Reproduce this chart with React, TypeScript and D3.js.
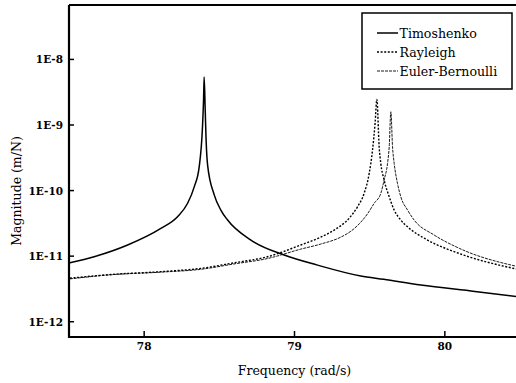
import React from "react";
import * as d3 from "d3";

// Frequency (rad/s) and magnitude (m/N)
const timoFreq = [77.506, 77.667, 77.89, 78.111, 78.222, 78.289, 78.333, 78.366, 78.388, 78.395, 78.399, 78.406, 78.412, 78.422, 78.466, 78.51, 78.555, 78.71, 78.931, 79.153, 79.441, 79.594, 79.84, 80.2, 80.5];
const timoMag = [7.9e-12, 9.8e-12, 1.48e-11, 2.65e-11, 4.0e-11, 6.4e-11, 1.14e-10, 2.3e-10, 9.4e-10, 2.4e-9, 5.4e-9, 1.7e-9, 5.9e-10, 2.45e-10, 8.6e-11, 5.05e-11, 3.55e-11, 1.76e-11, 1.04e-11, 7.3e-12, 4.98e-12, 4.43e-12, 3.63e-12, 2.9e-12, 2.38e-12];

const rayFreq = [77.506, 77.779, 78.111, 78.377, 78.597, 78.821, 79.042, 79.175, 79.264, 79.363, 79.419, 79.463, 79.497, 79.519, 79.536, 79.548, 79.563, 79.574, 79.596, 79.63, 79.663, 79.707, 79.752, 79.885, 80.095, 80.5];
const rayMag = [4.6e-12, 5.25e-12, 5.8e-12, 6.5e-12, 7.9e-12, 9.8e-12, 1.48e-11, 1.95e-11, 2.5e-11, 3.77e-11, 5.66e-11, 9.06e-11, 1.83e-10, 4.14e-10, 1.06e-9, 2.46e-9, 4.66e-10, 2.6e-10, 1.45e-10, 8.05e-11, 5.05e-11, 3.55e-11, 2.8e-11, 1.76e-11, 1.1e-11, 6.2e-12];

const ebFreq = [77.506, 77.779, 78.111, 78.377, 78.597, 78.821, 79.042, 79.175, 79.308, 79.375, 79.441, 79.485, 79.53, 79.574, 79.596, 79.619, 79.63, 79.641, 79.652, 79.663, 79.685, 79.707, 79.752, 79.796, 79.929, 80.095, 80.5];
const ebMag = [4.5e-12, 5.2e-12, 5.7e-12, 6.3e-12, 7.6e-12, 9.2e-12, 1.28e-11, 1.53e-11, 1.95e-11, 2.4e-11, 3.3e-11, 4.4e-11, 6.4e-11, 9.06e-11, 1.45e-10, 2.6e-10, 4.66e-10, 1.59e-9, 4.66e-10, 2.6e-10, 1.29e-10, 8.05e-11, 5.05e-11, 3.55e-11, 2.1e-11, 1.32e-11, 6.8e-12];

const xTicks = [78, 79, 80];
const yTicks = [1e-12, 1e-11, 1e-10, 1e-9, 1e-8];
const yTickLabels = ["1E-12", "1E-11", "1E-10", "1E-9", "1E-8"];
const seriesNames = ["Timoshenko", "Rayleigh", "Euler-Bernoulli"];

export default function App() {
  const W = 516, H = 383;
  const left = 69, right = 520, top = 5, bottom = 337;
  const x = d3.scaleLinear().domain([77.5, 80.5]).range([left, right]);
  const y = d3.scaleLog().domain([10 ** -12.233, 10 ** -7.17]).range([bottom, top]);

  const line = d3
    .line<[number, number]>()
    .x((d) => x(d[0]))
    .y((d) => y(d[1]))
    .curve(d3.curveMonotoneX);

  const zip = (a: number[], b: number[]) => a.map((v, i) => [v, b[i]] as [number, number]);
  const styles = [
    { dash: undefined as string | undefined, width: 1.5 },
    { dash: "2,1.6", width: 1.4 },
    { dash: "3,1", width: 0.9 },
  ];
  const series = [zip(timoFreq, timoMag), zip(rayFreq, rayMag), zip(ebFreq, ebMag)];
  const font = "DejaVu Serif";

  return (
    <svg width={W} height={H} fontFamily={font} style={{ position: "absolute", left: 0, top: 0, background: "#fff" }}>
      <rect x={0} y={0} width={W} height={H} fill="#fff" />
      <defs>
        <clipPath id="plotclip">
          <rect x={left} y={top} width={right - left} height={bottom - top} />
        </clipPath>
      </defs>
      <g clipPath="url(#plotclip)">
        {series.map((s, i) => (
          <path key={i} d={line(s) || ""} fill="none" stroke="#000" strokeWidth={styles[i].width} strokeDasharray={styles[i].dash} />
        ))}
      </g>
      {/* frame */}
      <line x1={left} x2={left} y1={top} y2={bottom + 1} stroke="#000" strokeWidth={2.2} />
      <line x1={left - 1} x2={W} y1={bottom} y2={bottom} stroke="#000" strokeWidth={2.2} />
      <line x1={left} x2={W} y1={top} y2={top} stroke="#000" strokeWidth={1.8} />
      {/* y ticks */}
      {yTicks.map((t, i) => (
        <g key={i}>
          <line x1={left} x2={left + 5} y1={y(t)} y2={y(t)} stroke="#000" strokeWidth={1.5} />
          <text x={63} y={y(t) + 4} textAnchor="end" fontSize={10.5} fontWeight="bold" fontFamily={font}>
            {yTickLabels[i]}
          </text>
        </g>
      ))}
      {/* x ticks */}
      {xTicks.map((t, i) => (
        <g key={i}>
          <line x1={x(t)} x2={x(t)} y1={bottom} y2={bottom - 6} stroke="#000" strokeWidth={1.5} />
          <text x={x(t)} y={350} textAnchor="middle" fontSize={10.5} fontWeight="bold" fontFamily={font}>
            {t}
          </text>
        </g>
      ))}
      <text x={x(79)} y={375} textAnchor="middle" fontSize={12.5} fontFamily={font}>
        Frequency (rad/s)
      </text>
      <text transform="translate(21,191) rotate(-90)" textAnchor="middle" fontSize={12.5} fontFamily={font}>
        Magnitude (m/N)
      </text>
      {/* legend */}
      <rect x={362} y={13} width={150} height={76} fill="#fff" stroke="#000" strokeWidth={1.5} />
      {seriesNames.map((n, i) => {
        const ly = [33, 52, 71][i];
        return (
          <g key={n}>
            <line x1={377} x2={398} y1={ly} y2={ly} stroke="#000" strokeWidth={styles[i].width} strokeDasharray={styles[i].dash} />
            <text x={399.5} y={ly + 4.5} fontSize={12.6} fontFamily={font}>
              {n}
            </text>
          </g>
        );
      })}
    </svg>
  );
}
